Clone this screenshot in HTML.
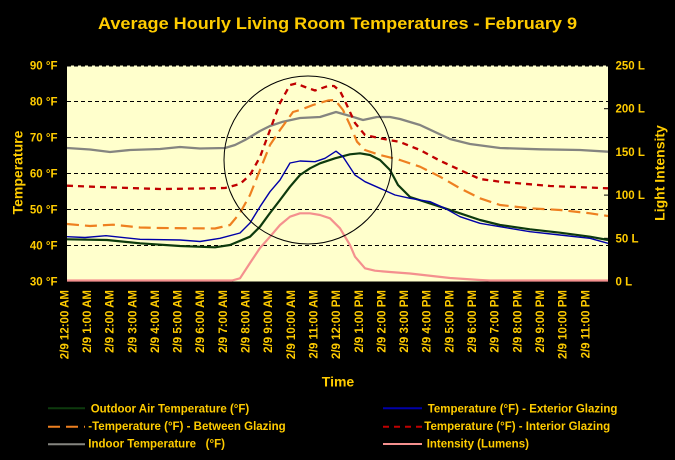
<!DOCTYPE html>
<html>
<head>
<meta charset="utf-8">
<style>
html,body{margin:0;padding:0;background:#000;}
svg{display:block;}
text{font-family:"Liberation Sans",Arial,sans-serif;font-weight:bold;fill:#FFCC00;}
</style>
</head>
<body>
<svg width="675" height="460" viewBox="0 0 675 460" xmlns="http://www.w3.org/2000/svg">
<rect x="0" y="0" width="675" height="460" fill="#000"/>
<!-- title -->
<text x="98" y="29" font-size="17" textLength="479" lengthAdjust="spacingAndGlyphs">Average Hourly Living Room Temperatures - February 9</text>

<!-- plot area -->
<rect x="67" y="65.5" width="541" height="216" fill="#FFFFCC"/>
<g stroke="#000" stroke-width="1" stroke-dasharray="4,3" fill="none">
<line x1="67" y1="66" x2="608" y2="66"/>
<line x1="67" y1="101.5" x2="608" y2="101.5"/>
<line x1="67" y1="137.5" x2="608" y2="137.5"/>
<line x1="67" y1="173.5" x2="608" y2="173.5"/>
<line x1="67" y1="209.5" x2="608" y2="209.5"/>
<line x1="67" y1="245.5" x2="608" y2="245.5"/>
</g>
<g stroke="#000" stroke-width="1">
<line x1="604" y1="108.7" x2="608" y2="108.7"/>
<line x1="604" y1="151.9" x2="608" y2="151.9"/>
<line x1="604" y1="195.1" x2="608" y2="195.1"/>
<line x1="604" y1="238.3" x2="608" y2="238.3"/>
</g>

<!-- series -->
<g fill="none" stroke-linejoin="round" stroke-linecap="butt">
<!-- Indoor (gray) -->
<polyline stroke="#858580" stroke-width="2.3" points="67,148 90,149.5 110,152 130,150 160,149 180,147 200,148.5 225,148 235,145 245,140 260,131 270,126 283,121.7 300,118 320,117 336,112 350,116 363,120 377,117 390,117 400,119 420,125 450,139 470,144 500,148 540,149.3 580,150 608,151.7"/>
<!-- Interior glazing (red dashed) -->
<polyline stroke="#C00000" stroke-width="2.3" stroke-dasharray="6,5" points="67,185.7 100,187 160,189 200,188.5 225,188 240,184 250,175 260,157 270,130 280,103 290,85 296,83.5 305,87 315,90.5 328,86 334,86 340,91 345,101 355,123 365,135 380,138.3 400,142 420,150 440,160.7 460,170 480,179 500,181.7 550,186 608,188.3"/>
<!-- Between glazing (orange dashed) -->
<polyline stroke="#EE8020" stroke-width="2.2" stroke-dasharray="12,6" points="67,224 90,226 113,224.7 140,227.5 160,228 215,228.5 230,225 240,213 250,195 260,170 270,145 280,130 293,112 300,110 313,105 328,100.5 335,100 343,110 350,125 357,141.7 365,150 380,155 400,160 420,166.7 440,176.7 460,188.3 480,198.3 500,205 530,208.3 560,210 590,213.3 608,216"/>
<!-- Outdoor (green) -->
<polyline stroke="#0D3A0D" stroke-width="2.2" points="67,239.3 107,240 140,243.3 180,246 215,247.3 230,245 250,236.7 260,226.7 270,213 280,200 290,186.7 300,175 310,168.3 320,163.3 335,158.3 350,154.3 360,153.3 370,155 380,160 390,170 398,185 410,197 440,206.7 460,213.3 480,220 500,225 530,229.3 560,232.7 590,236.7 608,240"/>
<!-- Exterior glazing (blue) -->
<polyline stroke="#0000A8" stroke-width="1.4" points="67,236.7 85,237.5 106,235.7 140,239.3 180,240 200,241.5 220,238.3 240,233 250,223 260,206.7 270,191.7 280,180 290,163 300,161 315,161.7 325,158.3 336,151.2 343,156.7 355,175 365,181.7 380,188.3 395,195 410,198.3 430,201.7 445,208.3 460,216.7 480,223.3 500,226.7 530,231.7 560,235 590,238.3 608,243.3"/>
<!-- Intensity (pink) -->
<polyline stroke="#F4908E" stroke-width="2.2" points="67,280.5 232,280.5 240,278.3 250,263 260,248 270,236.7 280,225 290,216.7 300,213.3 310,213.3 320,215 330,218.3 340,228.3 350,245 355,256.7 365,268.3 375,270.7 390,272 410,273.5 450,278 480,280 490,280.5 608,280.5"/>
</g>
<!-- circle -->
<circle cx="308" cy="160" r="84" fill="none" stroke="#000" stroke-width="1"/>

<!-- left axis labels -->
<g font-size="11.5" text-anchor="end">
<text x="57.5" y="69.5">90 °F</text>
<text x="57.5" y="105.5">80 °F</text>
<text x="57.5" y="141.5">70 °F</text>
<text x="57.5" y="177.5">60 °F</text>
<text x="57.5" y="213.5">50 °F</text>
<text x="57.5" y="249.5">40 °F</text>
<text x="57.5" y="285.5">30 °F</text>
</g>
<text font-size="14" text-anchor="middle" transform="translate(22.5,172.5) rotate(-90)">Temperature</text>

<!-- right axis labels -->
<g font-size="11.5" text-anchor="start">
<text x="615.5" y="69.5">250 L</text>
<text x="615.5" y="112.7">200 L</text>
<text x="615.5" y="155.9">150 L</text>
<text x="615.5" y="199.1">100 L</text>
<text x="615.5" y="242.3">50 L</text>
<text x="615.5" y="285.5">0 L</text>
</g>
<text font-size="14" text-anchor="middle" transform="translate(664.5,173) rotate(-90)">Light Intensity</text>

<!-- x axis labels -->
<g font-size="11.5" text-anchor="end">
<text transform="translate(68.3,290) rotate(-90)">2/9 12:00 AM</text>
<text transform="translate(90.95,290) rotate(-90)">2/9 1:00 AM</text>
<text transform="translate(113.6,290) rotate(-90)">2/9 2:00 AM</text>
<text transform="translate(136.25,290) rotate(-90)">2/9 3:00 AM</text>
<text transform="translate(158.9,290) rotate(-90)">2/9 4:00 AM</text>
<text transform="translate(181.55,290) rotate(-90)">2/9 5:00 AM</text>
<text transform="translate(204.2,290) rotate(-90)">2/9 6:00 AM</text>
<text transform="translate(226.85,290) rotate(-90)">2/9 7:00 AM</text>
<text transform="translate(249.5,290) rotate(-90)">2/9 8:00 AM</text>
<text transform="translate(272.15,290) rotate(-90)">2/9 9:00 AM</text>
<text transform="translate(294.8,290) rotate(-90)">2/9 10:00 AM</text>
<text transform="translate(317.45,290) rotate(-90)">2/9 11:00 AM</text>
<text transform="translate(340.1,290) rotate(-90)">2/9 12:00 PM</text>
<text transform="translate(362.75,290) rotate(-90)">2/9 1:00 PM</text>
<text transform="translate(385.4,290) rotate(-90)">2/9 2:00 PM</text>
<text transform="translate(408.05,290) rotate(-90)">2/9 3:00 PM</text>
<text transform="translate(430.7,290) rotate(-90)">2/9 4:00 PM</text>
<text transform="translate(453.35,290) rotate(-90)">2/9 5:00 PM</text>
<text transform="translate(476,290) rotate(-90)">2/9 6:00 PM</text>
<text transform="translate(498.65,290) rotate(-90)">2/9 7:00 PM</text>
<text transform="translate(521.3,290) rotate(-90)">2/9 8:00 PM</text>
<text transform="translate(543.95,290) rotate(-90)">2/9 9:00 PM</text>
<text transform="translate(566.6,290) rotate(-90)">2/9 10:00 PM</text>
<text transform="translate(589.25,290) rotate(-90)">2/9 11:00 PM</text>
</g>
<text x="338" y="386.5" font-size="14" text-anchor="middle">Time</text>

<!-- legend -->
<g fill="none">
<line x1="48" y1="408.3" x2="85" y2="408.3" stroke="#0D3A0D" stroke-width="2"/>
<line x1="48" y1="426.7" x2="85" y2="426.7" stroke="#EE8020" stroke-width="2" stroke-dasharray="12,6"/>
<line x1="48" y1="444.3" x2="85" y2="444.3" stroke="#858580" stroke-width="2"/>
<line x1="383" y1="408.3" x2="422" y2="408.3" stroke="#0000A8" stroke-width="2"/>
<line x1="383" y1="426.7" x2="422" y2="426.7" stroke="#C00000" stroke-width="2" stroke-dasharray="6,5"/>
<line x1="383" y1="444" x2="422" y2="444" stroke="#F4908E" stroke-width="2"/>
</g>
<g font-size="11.5">
<text x="90.7" y="412.3">Outdoor Air Temperature (°F)</text>
<text x="88.3" y="430">-Temperature (°F) - Between Glazing</text>
<text x="88.3" y="447.5" xml:space="preserve">Indoor Temperature   (°F)</text>
<text x="427.7" y="412.3">Temperature (°F) - Exterior Glazing</text>
<text x="424.3" y="430">Temperature (°F) - Interior Glazing</text>
<text x="426.7" y="447.5">Intensity (Lumens)</text>
</g>
</svg>
</body>
</html>
